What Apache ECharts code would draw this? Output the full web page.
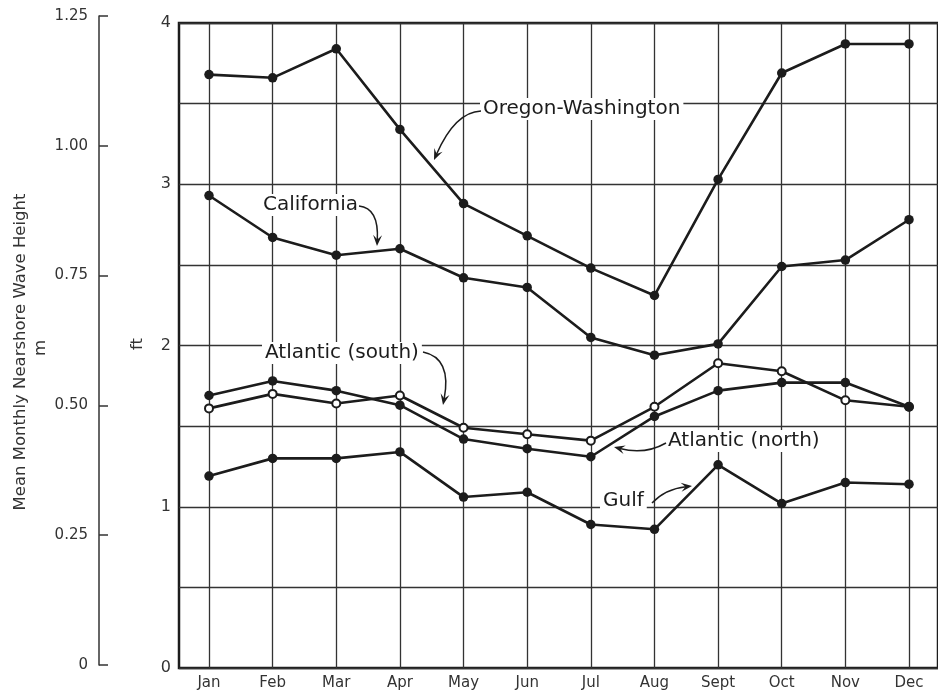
<!DOCTYPE html>
<html>
<head>
<meta charset="utf-8">
<script src="https://cdn.jsdelivr.net/npm/echarts@6/dist/echarts.min.js"></script>
<style>
  html, body { margin: 0; padding: 0; background: #fff; }
  #chart { width: 938px; height: 693px; }
</style>
</head>
<body>
<div id="chart"></div>
<script>
var months = ['Jan', 'Feb', 'Mar', 'Apr', 'May', 'Jun', 'Jul', 'Aug', 'Sept', 'Oct', 'Nov', 'Dec'];
// wave heights in ft
var oregonWashington = [3.68, 3.66, 3.84, 3.34, 2.88, 2.68, 2.48, 2.31, 3.03, 3.69, 3.87, 3.87];
var california = [2.93, 2.67, 2.56, 2.60, 2.42, 2.36, 2.05, 1.94, 2.01, 2.49, 2.53, 2.78];
var atlanticSouth = [1.61, 1.70, 1.64, 1.69, 1.49, 1.45, 1.41, 1.62, 1.89, 1.84, 1.66, 1.62];
var atlanticNorth = [1.69, 1.78, 1.72, 1.63, 1.42, 1.36, 1.31, 1.56, 1.72, 1.77, 1.77, 1.62];
var gulf = [1.19, 1.30, 1.30, 1.34, 1.06, 1.09, 0.89, 0.86, 1.26, 1.02, 1.15, 1.14];

var ink = '#1c1c1c';
var labelFont = 'DejaVu Sans';
var noteFont = 'DejaVu Sans';

function pairs(arr) {
    return arr.map(function (v, i) { return [i, v]; });
}

function lineSeries(name, arr, open) {
    return {
        name: name,
        type: 'line',
        xAxisIndex: 2,
        yAxisIndex: 2,
        data: pairs(arr),
        symbol: open ? 'emptyCircle' : 'circle',
        symbolSize: open ? 8 : 9.5,
        lineStyle: { color: ink, width: 2.6 },
        itemStyle: open ? { color: ink, borderColor: ink, borderWidth: 1.6 } : { color: ink },
        animation: false
    };
}

// curved pointer from a label to a line
function arrow(x0, y0, cx, cy, x1, y1) {
    var dx = x1 - cx, dy = y1 - cy;
    var len = Math.sqrt(dx * dx + dy * dy);
    dx /= len; dy /= len;
    var px = -dy, py = dx;
    var L = 11, W = 4.5;
    return [{
        type: 'bezierCurve',
        z: 100,
        shape: { x1: x0, y1: y0, cpx1: cx, cpy1: cy, x2: x1 - dx * 6, y2: y1 - dy * 6 },
        style: { stroke: ink, lineWidth: 1.5, fill: null }
    }, {
        type: 'polygon',
        z: 100,
        shape: {
            points: [
                [x1, y1],
                [x1 - dx * L + px * W, y1 - dy * L + py * W],
                [x1 - dx * L * 0.6, y1 - dy * L * 0.6],
                [x1 - dx * L - px * W, y1 - dy * L - py * W]
            ]
        },
        style: { fill: ink }
    }];
}

function note(text, x, y) {
    return {
        type: 'text',
        z: 99,
        x: x,
        y: y,
        style: {
            text: text,
            font: '20px "' + noteFont + '"',
            fill: ink,
            align: 'left',
            verticalAlign: 'middle',
            backgroundColor: '#fff',
            padding: [1, 3]
        }
    };
}

function sideTitle(text, x, y) {
    return {
        type: 'text', x: x, y: y, rotation: Math.PI / 2,
        style: { text: text, font: '16.5px "' + labelFont + '"', fill: '#333', align: 'center', verticalAlign: 'middle' }
    };
}

var graphics = [
    sideTitle('Mean Monthly Nearshore Wave Height', 21, 352),
    sideTitle('m', 41, 348),
    sideTitle('ft', 138, 344),
    note('Oregon-Washington', 480, 109),
    note('California', 260, 205),
    note('Atlantic (south)', 262, 353),
    note('Atlantic (north)', 665, 441),
    note('Gulf', 600, 501)
]
    .concat(arrow(481, 111, 455, 112, 434, 160))
    .concat(arrow(359, 206, 379, 208, 377, 246))
    .concat(arrow(423, 352, 452, 358, 443, 405))
    .concat(arrow(666, 443, 645, 455, 614, 447))
    .concat(arrow(652, 503, 665, 489, 692, 486));

var myChart = echarts.init(document.getElementById('chart'));

myChart.setOption({
    backgroundColor: '#fff',
    animation: false,
    grid: [
        { left: 99, width: 1, top: 16, bottom: 28 },
        { left: 179, right: -30, top: 23, bottom: 25, show: true, borderColor: ink, borderWidth: 2.5, backgroundColor: 'transparent' },
        { left: 209, right: 29, top: 23, bottom: 25 }
    ],
    xAxis: [
        { gridIndex: 0, type: 'value', show: false },
        { gridIndex: 1, type: 'value', show: false },
        {
            gridIndex: 2, type: 'value', min: 0, max: 11, interval: 1,
            axisLine: { show: false },
            axisTick: { show: false },
            axisLabel: {
                margin: 8, color: '#333', fontSize: 15, fontFamily: labelFont,
                formatter: function (v) { return months[v] || ''; }
            },
            splitLine: { show: true, lineStyle: { color: '#333', width: 1.3 } }
        }
    ],
    yAxis: [
        {
            gridIndex: 0, type: 'value', min: 0, max: 1.25, interval: 0.25,
            axisLine: { show: true, lineStyle: { color: '#333', width: 1.5 } },
            axisTick: { show: true, inside: true, length: 9, lineStyle: { color: '#333', width: 1.5 } },
            axisLabel: {
                margin: 11, color: '#333', fontSize: 15, fontFamily: labelFont,
                formatter: function (v) { return v === 0 ? '0' : v.toFixed(2); }
            },
            splitLine: { show: false }
        },
        {
            gridIndex: 1, type: 'value', min: 0, max: 4, interval: 0.5,
            axisLine: { show: false },
            axisTick: { show: false },
            axisLabel: {
                margin: 8, color: '#333', fontSize: 16, fontFamily: labelFont,
                formatter: function (v) { return v % 1 === 0 ? String(v) : ''; }
            },
            splitLine: { show: true, lineStyle: { color: '#333', width: 1.3 } }
        },
        { gridIndex: 2, type: 'value', min: 0, max: 4, show: false }
    ],
    series: [
        lineSeries('Oregon-Washington', oregonWashington, false),
        lineSeries('California', california, false),
        lineSeries('Atlantic (south)', atlanticSouth, true),
        lineSeries('Atlantic (north)', atlanticNorth, false),
        lineSeries('Gulf', gulf, false)
    ],
    graphic: graphics
});
</script>
</body>
</html>
